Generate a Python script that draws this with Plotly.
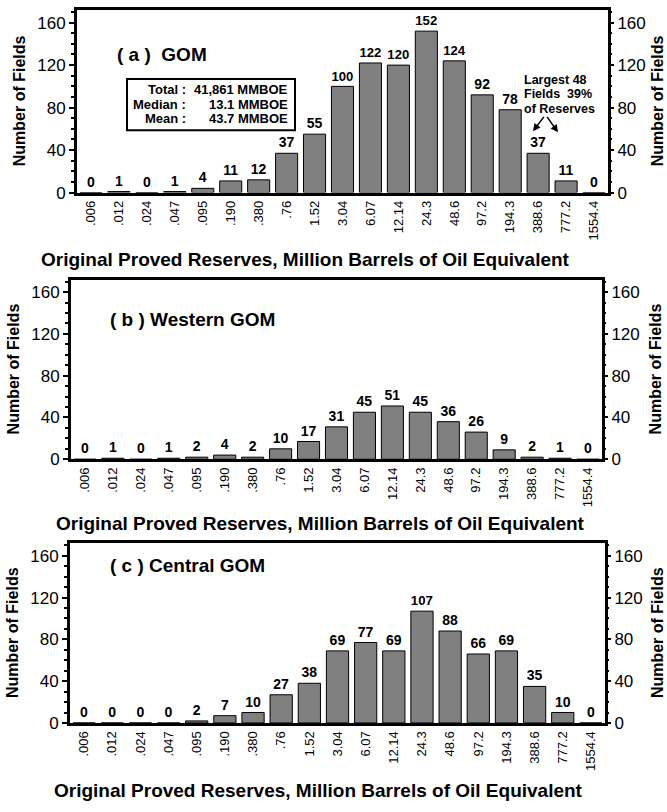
import plotly.graph_objects as go

categories = [".006", ".012", ".024", ".047", ".095", ".190", ".380", ".76", "1.52", "3.04",
              "6.07", "12.14", "24.3", "48.6", "97.2", "194.3", "388.6", "777.2", "1554.4"]
gom_all = [0, 1, 0, 1, 4, 11, 12, 37, 55, 100, 122, 120, 152, 124, 92, 78, 37, 11, 0]
gom_western = [0, 1, 0, 1, 2, 4, 2, 10, 17, 31, 45, 51, 45, 36, 26, 9, 2, 1, 0]
gom_central = [0, 0, 0, 0, 2, 7, 10, 27, 38, 69, 77, 69, 107, 88, 66, 69, 35, 10, 0]
y_ticks = [0, 40, 80, 120, 160]
panel_titles = ["( a )  GOM", "( b ) Western GOM", "( c ) Central GOM"]
stats_labels = ["Total :", "Median :", "Mean :"]
stats_values = ["41,861 MMBOE", "13.1 MMBOE", "43.7 MMBOE"]
note_lines = ["Largest 48", "Fields  39%", "of Reserves"]
x_title = "Original Proved Reserves, Million Barrels of Oil Equivalent"
y_title = "Number of Fields"

W, H = 667, 812
FONT = "Liberation Sans, Arial, Helvetica, sans-serif"


def px(x):
    return x / W


def py(y):
    return 1 - y / H


# panel geometry in pixels: (left, right, top, bottom)
panels = [(77, 608, 10, 195), (71, 602, 283, 465), (70, 605, 550, 732)]
series = [gom_all, gom_western, gom_central]

fig = go.Figure()
layout = dict(
    width=W, height=H, margin=dict(l=0, r=0, t=0, b=0),
    paper_bgcolor="white", plot_bgcolor="white",
    font=dict(family=FONT, color="black"),
    showlegend=False, bargap=0.21,
)

annotations = []
shapes = []

for i, (vals, (l, r, t, b)) in enumerate(zip(series, panels)):
    n = i + 1
    xa = "x" if n == 1 else f"x{n}"
    ya = "y" if n == 1 else f"y{n}"
    yr_n = n + 3
    yr = f"y{yr_n}"
    fig.add_trace(go.Bar(
        x=categories, y=vals, xaxis=xa, yaxis=ya,
        marker=dict(color="#808080", line=dict(color="black", width=1)),
        texttemplate="<b>%{y}</b>", textposition="outside",
        textfont=dict(size=14, color="black", family=FONT),
        cliponaxis=False, hoverinfo="skip",
    ))
    fig.add_trace(go.Scatter(
        x=categories, y=vals, xaxis=xa, yaxis=yr, mode="markers",
        marker=dict(opacity=0), hoverinfo="skip",
    ))
    xkey = "xaxis" if n == 1 else f"xaxis{n}"
    ykey = "yaxis" if n == 1 else f"yaxis{n}"
    layout[xkey] = dict(
        domain=[px(l), px(r)], anchor=ya, type="category",
        range=[-0.5, len(categories) - 0.5],
        showline=True, linewidth=3, linecolor="black", mirror=True,
        ticks="", tickangle=-90, tickfont=dict(size=13, color="black"),
        showgrid=False, zeroline=False, fixedrange=True,
    )
    layout[ykey] = dict(
        domain=[py(b), py(t)], anchor=xa, range=[0, 172],
        tickvals=y_ticks, ticks="outside", ticklen=5, tickwidth=2, tickcolor="black",
        minor=dict(dtick=10, ticks="outside", ticklen=3, tickwidth=2, tickcolor="black"),
        showline=True, linewidth=3, linecolor="black", mirror=True,
        tickfont=dict(size=17, color="black"), showgrid=False, zeroline=False,
    )
    layout[f"yaxis{yr_n}"] = dict(
        overlaying=ya, side="right", anchor=xa, range=[0, 172],
        tickvals=y_ticks, ticks="outside", ticklen=5, tickwidth=2, tickcolor="black",
        minor=dict(dtick=10, ticks="outside", ticklen=3, tickwidth=2, tickcolor="black"),
        showline=False, tickfont=dict(size=17, color="black"),
        showgrid=False, zeroline=False,
    )

# titles and labels (pixel positions)
ytitle_left_x = [19, 13, 12]
ytitle_right_x = [657, 655, 657]
xtitle_pos = [(305, 263), (320, 530), (318, 800)]
label_pos = [(115, 55), (108, 323), (108, 573)]
for i, (l, r, t, b) in enumerate(panels):
    cy = (t + b) / 2
    annotations.append(dict(x=px(ytitle_left_x[i]), y=py(cy), xref="paper", yref="paper",
                            text=f"<b>{y_title}</b>", textangle=-90, showarrow=False,
                            font=dict(size=16), xanchor="center", yanchor="middle"))
    annotations.append(dict(x=px(ytitle_right_x[i]), y=py(cy), xref="paper", yref="paper",
                            text=f"<b>{y_title}</b>", textangle=-90, showarrow=False,
                            font=dict(size=16), xanchor="center", yanchor="middle"))
    xt, yt = xtitle_pos[i]
    annotations.append(dict(x=px(xt), y=py(yt), xref="paper", yref="paper",
                            text=f"<b>{x_title}</b>", showarrow=False,
                            font=dict(size=19), xanchor="center", yanchor="middle"))
    lx, ly = label_pos[i]
    annotations.append(dict(x=px(lx), y=py(ly), xref="paper", yref="paper",
                            text=f"<b>{panel_titles[i]}</b>", showarrow=False,
                            font=dict(size=19), xanchor="left", yanchor="middle"))

# stats box in panel a
shapes.append(dict(type="rect", xref="paper", yref="paper",
                   x0=px(127), x1=px(295), y0=py(132), y1=py(80),
                   line=dict(color="black", width=2), fillcolor="white", layer="above"))
for k, yy in enumerate([91, 106, 120]):
    annotations.append(dict(x=px(188), y=py(yy), xref="paper", yref="paper",
                            text=f"<b>{stats_labels[k]}</b>", showarrow=False,
                            font=dict(size=13), xanchor="right", yanchor="middle"))
    annotations.append(dict(x=px(290), y=py(yy), xref="paper", yref="paper",
                            text=f"<b>{stats_values[k]}</b>", showarrow=False,
                            font=dict(size=13), xanchor="right", yanchor="middle"))

# note with arrows in panel a
for k, yy in enumerate([81, 95.5, 110]):
    annotations.append(dict(x=px(522), y=py(yy), xref="paper", yref="paper",
                            text=f"<b>{note_lines[k]}</b>", showarrow=False,
                            font=dict(size=12.5), xanchor="left", yanchor="middle"))
annotations.append(dict(x=px(533), y=py(133), xref="paper", yref="paper", text="",
                        showarrow=True, ax=12, ay=-16, arrowhead=2, arrowsize=1,
                        arrowwidth=1.5, arrowcolor="black"))
annotations.append(dict(x=px(558), y=py(134), xref="paper", yref="paper", text="",
                        showarrow=True, ax=-12, ay=-17, arrowhead=2, arrowsize=1,
                        arrowwidth=1.5, arrowcolor="black"))

layout["annotations"] = annotations
layout["shapes"] = shapes
fig.update_layout(**layout)
fig.write_html("out.html")
